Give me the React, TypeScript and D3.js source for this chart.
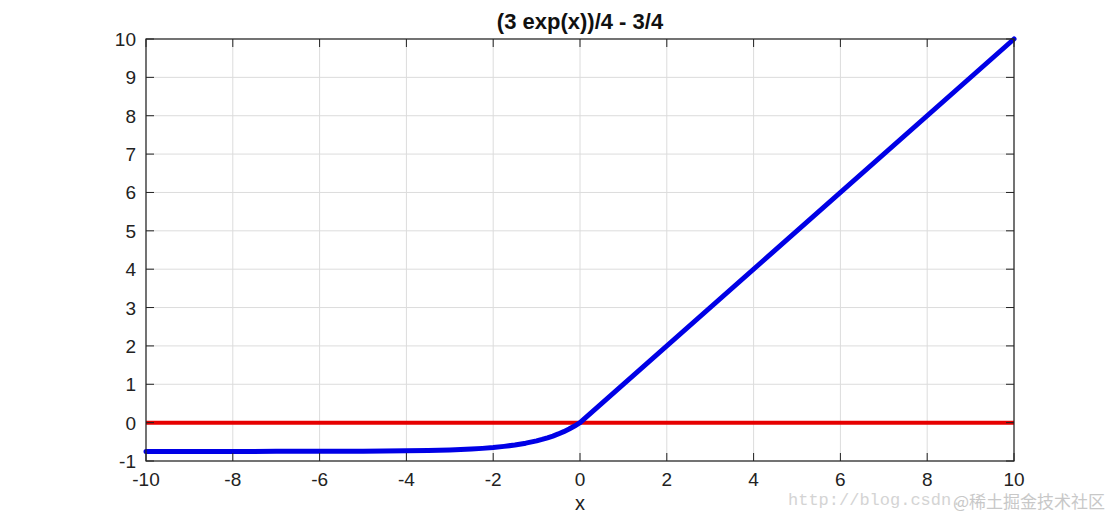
import React from 'react';
import * as d3 from 'd3';

// curve points
const curveX = [-10, -9, -8, -7, -6, -5, -4, -3.5, -3, -2.75, -2.5, -2.25, -2, -1.75, -1.5, -1.25, -1, -0.875, -0.75, -0.625, -0.5, -0.375, -0.25, -0.125, 0, 10];
const curveY = [-0.75, -0.75, -0.75, -0.749, -0.748, -0.745, -0.736, -0.728, -0.713, -0.702, -0.688, -0.671, -0.649, -0.619, -0.583, -0.535, -0.474, -0.437, -0.396, -0.35, -0.295, -0.235, -0.166, -0.088, 0, 10];
const zeroX = [-10, 10];
const zeroY = [0, 0];

const xTicks = [-10, -8, -6, -4, -2, 0, 2, 4, 6, 8, 10];
const yTicks = [-1, 0, 1, 2, 3, 4, 5, 6, 7, 8, 9, 10];

const W = 1120;
const H = 518;
const m = { left: 146, right: 1014, top: 39, bottom: 461 };

const App: React.FC = () => {
  const x = d3.scaleLinear().domain([-10, 10]).range([m.left, m.right]);
  const y = d3.scaleLinear().domain([-1, 10]).range([m.bottom, m.top]);

  const line = d3.line<[number, number]>()
    .x(d => x(d[0]))
    .y(d => y(d[1]));

  const curve = curveX.map((v, i) => [v, curveY[i]] as [number, number]);
  const zero = zeroX.map((v, i) => [v, zeroY[i]] as [number, number]);
  const font = "'Liberation Sans', Arial, Helvetica, sans-serif";
  const tick = 8;

  return (
    <svg width={W} height={H} style={{ position: 'absolute', left: 0, top: 0, background: '#fff' }}>
      {/* grid */}
      {xTicks.map(t => (
        <line key={'gx' + t} x1={x(t)} x2={x(t)} y1={m.top} y2={m.bottom} stroke="#dcdcdc" strokeWidth={1} />
      ))}
      {yTicks.map(t => (
        <line key={'gy' + t} x1={m.left} x2={m.right} y1={y(t)} y2={y(t)} stroke="#dcdcdc" strokeWidth={1} />
      ))}

      {/* series */}
      <path d={line(zero) || ''} fill="none" stroke="#e60000" strokeWidth={4} />
      <path d={line(curve) || ''} fill="none" stroke="#0000e6" strokeWidth={5} strokeLinecap="round" strokeLinejoin="round" />

      {/* box */}
      <rect x={m.left} y={m.top} width={m.right - m.left} height={m.bottom - m.top} fill="none" stroke="#222" strokeWidth={1.2} />

      {/* ticks, inward on all sides */}
      {xTicks.map(t => (
        <g key={'tx' + t}>
          <line x1={x(t)} x2={x(t)} y1={m.bottom} y2={m.bottom - tick} stroke="#222" />
          <line x1={x(t)} x2={x(t)} y1={m.top} y2={m.top + tick} stroke="#222" />
          <text x={x(t)} y={m.bottom + 25} textAnchor="middle" fontFamily={font} fontSize={19} fill="#222">{t}</text>
        </g>
      ))}
      {yTicks.map(t => (
        <g key={'ty' + t}>
          <line x1={m.left} x2={m.left + tick} y1={y(t)} y2={y(t)} stroke="#222" />
          <line x1={m.right} x2={m.right - tick} y1={y(t)} y2={y(t)} stroke="#222" />
          <text x={m.left - 10} y={y(t) + 7} textAnchor="end" fontFamily={font} fontSize={19} fill="#222">{t}</text>
        </g>
      ))}

      <text x={(m.left + m.right) / 2} y={29} textAnchor="middle" fontFamily={font} fontSize={22} fontWeight="bold" fill="#111">(3 exp(x))/4 - 3/4</text>
      <text x={x(0)} y={510} textAnchor="middle" fontFamily={font} fontSize={20} fill="#222">x</text>

      {/* watermark */}
      <text x={788} y={505} fontFamily="'Liberation Mono', 'DejaVu Sans Mono', monospace" fontSize={17} fill="#d4d4d4">http://blog.csdn.</text>
      <text x={953} y={508} fontFamily="'Noto Sans CJK SC', sans-serif" fontSize={17} fill="#c8c8c8">@稀土掘金技术社区</text>
    </svg>
  );
};

export default App;
